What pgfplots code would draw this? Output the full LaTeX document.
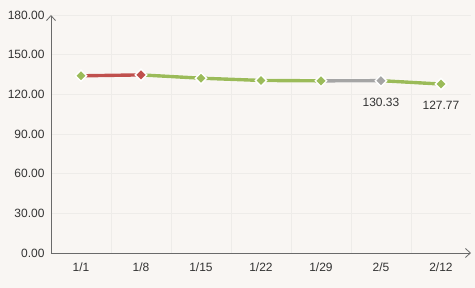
\documentclass[border=0pt]{standalone}
\usepackage{pgfplots}
\pgfplotsset{compat=1.18}
\usepackage{fontspec}
\setmainfont{Liberation Sans}
\usetikzlibrary{arrows.meta}
\definecolor{bg}{HTML}{F9F6F3}
\definecolor{gridc}{HTML}{EEECE9}
\definecolor{axc}{HTML}{6A6A6A}
\definecolor{txt}{HTML}{333333}
\definecolor{cred}{HTML}{C0504D}
\definecolor{cgreen}{HTML}{9BBB59}
\definecolor{cgray}{HTML}{A5A5A5}
\begin{document}
\begin{tikzpicture}
\fill[bg] (-51pt,-35pt) rectangle (424pt,253pt);
\begin{axis}[
  scale only axis, width=420pt, height=238pt,
  xmin=-0.5, xmax=6.5, ymin=0, ymax=180,
  axis lines=left,
  axis line style={axc, line width=0.8pt, -{Straight Barb[length=5pt,width=9pt]}},
  xtick={0,...,6},
  xticklabels={1/1,1/8,1/15,1/22,1/29,2/5,2/12},
  minor xtick={0.5,1.5,...,5.5},
  ytick={0,30,...,180},
  major tick length=0pt, minor tick length=0pt,
  xmajorgrids=false, xminorgrids=true, ymajorgrids=true,
  grid style={gridc, line width=0.6pt},
  minor grid style={gridc, line width=0.6pt},
  /pgf/number format/fixed, /pgf/number format/fixed zerofill,
  /pgf/number format/precision=2, /pgf/number format/assume math mode=true,
  ticklabel style={font=\fontsize{12}{14}\selectfont, text=txt},
  yticklabel style={xshift=-3pt},
  xticklabel style={yshift=-6pt},
  clip=false,
]
\pgfplotsset{
  seg/.style={line width=3.4pt, mark=none},
  halo/.style={line width=4.6pt, white, opacity=0.5, mark=none},
  dia/.style={only marks, mark=square*, mark size=4pt, mark options={rotate=45, draw=white, line width=1.4pt, fill=#1}},
}
% halos
\addplot[halo] coordinates {(0,134.0) (1,134.7) (2,132.2) (3,130.5) (4,130.2) (5,130.33) (6,127.77)};
% segments
\addplot[seg, cred] coordinates {(0,134.0) (1,134.7)};
\addplot[seg, cgreen] coordinates {(1,134.7) (2,132.2) (3,130.5) (4,130.2)};
\addplot[seg, cgray] coordinates {(4,130.2) (5,130.33)};
\addplot[seg, cgreen] coordinates {(5,130.33) (6,127.77)};
% markers
\addplot[dia=cgreen] coordinates {(0,134.0) (2,132.2) (3,130.5) (4,130.2) (6,127.77)};
\addplot[dia=cred] coordinates {(1,134.7)};
\addplot[dia=cgray] coordinates {(5,130.33)};
% value labels
\addplot[draw=none, mark=none, nodes near coords, point meta=explicit symbolic,
  nodes near coords style={font=\fontsize{12}{14}\selectfont, text=txt, anchor=north, yshift=-14pt}]
  coordinates {(5,130.33)[130.33] (6,127.77)[127.77]};
\end{axis}
\end{tikzpicture}
\end{document}
